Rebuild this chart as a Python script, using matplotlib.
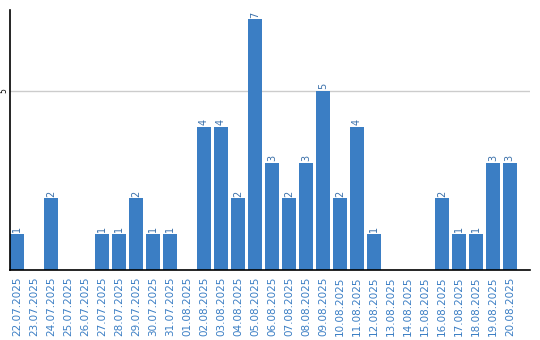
import numpy as np
import matplotlib
matplotlib.use("Agg")
import matplotlib.pyplot as plt

dates = ["22.07.2025", "23.07.2025", "24.07.2025", "25.07.2025", "26.07.2025",
         "27.07.2025", "28.07.2025", "29.07.2025", "30.07.2025", "31.07.2025",
         "01.08.2025", "02.08.2025", "03.08.2025", "04.08.2025", "05.08.2025",
         "06.08.2025", "07.08.2025", "08.08.2025", "09.08.2025", "10.08.2025",
         "11.08.2025", "12.08.2025", "13.08.2025", "14.08.2025", "15.08.2025",
         "16.08.2025", "17.08.2025", "18.08.2025", "19.08.2025", "20.08.2025"]
counts = [1, 0, 2, 0, 0, 1, 1, 2, 1, 1,
          0, 4, 4, 2, 7, 3, 2, 3, 5, 2,
          4, 1, 0, 0, 0, 2, 1, 1, 3, 3]

bar_color = "#3b7ec4"
label_color = "#3a70aa"

fig = plt.figure(figsize=(5.4, 3.4), dpi=100)
ax = fig.add_axes([10 / 540, 70 / 340, 520 / 540, 260 / 340])

x = np.arange(len(dates))
width = 14 / 17
ax.bar(x, counts, width=width, align="edge", color=bar_color, zorder=2)

for xi, c in zip(x, counts):
    if c > 0:
        ax.text(xi + width / 2, c + 0.05, str(c), rotation=90, ha="center",
                va="bottom", fontsize=7, color=label_color)

ax.set_xlim(0, 30.6)
ax.set_ylim(0, 7.26)
ax.set_yticks([5])
ax.set_yticklabels(["5"], rotation=90, va="center", fontsize=5.5)
ax.tick_params(axis="y", length=0, pad=1.5)
ax.yaxis.grid(True, color="#cccccc", linewidth=1, zorder=0)

ax.set_xticks(x + width / 2)
ax.set_xticklabels(dates, rotation=90, fontsize=7.5, color=bar_color)
ax.tick_params(axis="x", length=0, pad=5)

for s in ["top", "right"]:
    ax.spines[s].set_visible(False)
ax.spines["left"].set_linewidth(1.2)
ax.spines["bottom"].set_linewidth(1.2)

fig.savefig("out.png", dpi=100)
